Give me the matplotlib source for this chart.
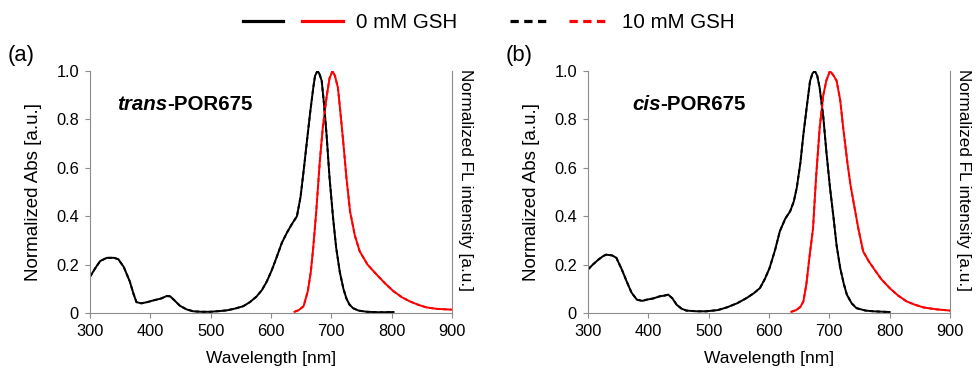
import matplotlib
matplotlib.use("Agg")
import matplotlib.pyplot as plt
from matplotlib.lines import Line2D
from matplotlib.legend_handler import HandlerTuple
from matplotlib.ticker import FuncFormatter

plt.rcParams['font.family'] = ['Liberation Sans', 'DejaVu Sans']

# (a) trans-POR675, absorbance
wl_abs_a = [300, 310, 317, 328, 340, 347, 356, 366, 372, 377, 385, 395, 405, 418, 427, 433,
            440, 449, 460, 471, 485, 499, 515, 527, 540, 554, 565, 576, 585, 593, 601, 609,
            618, 626, 634, 643, 649, 654, 660, 665, 670, 673, 677, 680, 684, 688, 692, 697,
            703, 708, 714, 720, 725, 730, 736, 745, 759, 780, 803]
abs_a = [0.15, 0.19, 0.215, 0.228, 0.228, 0.222, 0.19, 0.13, 0.08, 0.045, 0.04, 0.045, 0.052,
         0.06, 0.07, 0.069, 0.052, 0.03, 0.015, 0.007, 0.005, 0.005, 0.008, 0.011, 0.018,
         0.028, 0.045, 0.068, 0.095, 0.13, 0.175, 0.228, 0.29, 0.33, 0.365, 0.4, 0.48, 0.586,
         0.72, 0.83, 0.93, 0.98, 1.0, 0.99, 0.96, 0.86, 0.74, 0.56, 0.39, 0.27, 0.17, 0.1,
         0.06, 0.035, 0.02, 0.01, 0.005, 0.003, 0.004]

# (a) trans-POR675, fluorescence
wl_fl_a = [639, 646, 654, 661, 666, 670, 675, 681, 686, 692, 697, 702, 706, 711, 715, 720,
           725, 731, 739, 747, 760, 775, 790, 803, 817, 830, 845, 858, 875, 899]
fl_a = [0.005, 0.012, 0.028, 0.09, 0.17, 0.27, 0.42, 0.63, 0.77, 0.89, 0.97, 1.0, 0.98,
        0.93, 0.83, 0.7, 0.56, 0.42, 0.32, 0.255, 0.2, 0.159, 0.12, 0.09, 0.065, 0.048,
        0.033, 0.023, 0.017, 0.014]

# (b) cis-POR675, absorbance
wl_abs_b = [300, 308, 317, 325, 330, 340, 347, 356, 364, 372, 381, 390, 397, 408, 419, 427,
            433, 440, 447, 455, 463, 480, 496, 515, 530, 547, 563, 575, 585, 593, 601, 610,
            618, 627, 635, 641, 646, 652, 657, 663, 668, 672, 676, 680, 684, 690, 695, 701,
            707, 712, 718, 724, 729, 737, 745, 760, 773, 800]
abs_b = [0.18, 0.2, 0.22, 0.235, 0.241, 0.238, 0.228, 0.18, 0.131, 0.085, 0.055, 0.05,
         0.055, 0.06, 0.069, 0.072, 0.076, 0.06, 0.034, 0.018, 0.01, 0.007, 0.007, 0.012,
         0.023, 0.04, 0.062, 0.082, 0.103, 0.14, 0.186, 0.26, 0.338, 0.39, 0.42, 0.46,
         0.517, 0.62, 0.738, 0.86, 0.958, 0.99, 1.0, 0.98, 0.93, 0.81, 0.669, 0.52, 0.393,
         0.28, 0.186, 0.12, 0.076, 0.04, 0.02, 0.01, 0.007, 0.004]

# (b) cis-POR675, fluorescence
wl_fl_b = [637, 645, 652, 657, 662, 667, 673, 678, 684, 690, 695, 701, 706, 712, 718, 723,
           730, 735, 740, 748, 756, 765, 773, 786, 800, 814, 828, 842, 856, 878, 900]
fl_b = [0.005, 0.012, 0.025, 0.048, 0.12, 0.23, 0.35, 0.56, 0.765, 0.9, 0.96, 1.0, 0.985,
        0.96, 0.88, 0.765, 0.62, 0.53, 0.46, 0.35, 0.255, 0.215, 0.186, 0.14, 0.103,
        0.072, 0.048, 0.034, 0.023, 0.015, 0.01]

panels = [
    ("(a)", "trans", "-POR675", wl_abs_a, abs_a, wl_fl_a, fl_a),
    ("(b)", "cis", "-POR675", wl_abs_b, abs_b, wl_fl_b, fl_b),
]

W, H = 976, 369
fig = plt.figure(figsize=(W / 100, H / 100), dpi=100)
# axes boxes in pixels: left, right, top, bottom
boxes = [(90, 452, 71, 313), (588, 950, 71, 313)]

spine_col = "#8c8c8c"
for (x0, x1, y0, y1), (tag, iso, rest, wa, ya, wf, yf) in zip(boxes, panels):
    ax = fig.add_axes([x0 / W, 1 - y1 / H, (x1 - x0) / W, (y1 - y0) / H])
    ax.plot(wa, ya, color="black", lw=1.4)
    ax.plot(wf, yf, color="red", lw=1.4)
    # 10 mM GSH traces overlap the 0 mM traces
    ax.plot(wa, ya, color="black", lw=1.4, ls=(0, (2, 1.5)))
    ax.plot(wf, yf, color="red", lw=1.4, ls=(0, (2, 1.5)))
    ax.set_xlim(300, 900)
    ax.set_ylim(0, 1.0)
    ax.set_xticks(range(300, 901, 100))
    ax.set_yticks([0, 0.2, 0.4, 0.6, 0.8, 1.0])
    ax.yaxis.set_major_formatter(FuncFormatter(lambda v, p: "0" if v == 0 else f"{v:.1f}"))
    ax.tick_params(labelsize=11.8, direction="out", length=3.5, color=spine_col, pad=4.5)
    ax.spines["top"].set_visible(False)
    for s in ["left", "bottom", "right"]:
        ax.spines[s].set_color(spine_col)
    ax.set_xlabel("Wavelength [nm]", fontsize=12.5, va="center")
    ax.xaxis.set_label_coords(0.5, (y1 - 358) / (y1 - y0))
    ax.set_ylabel("Normalized Abs [a.u.]", fontsize=13.5, va="center")
    ax.yaxis.set_label_coords((34 - 90) / (x1 - x0), 0.5)
    fig.text((x1 + 6) / W, 1 - 69 / H, "Normalized FL intensity [a.u.]", fontsize=12.3,
             rotation=-90, ha="left", va="top")
    ty = (y1 - 105) / (y1 - y0)
    t = ax.text((117 if tag == "(a)" else 632) - x0, 0, iso, fontsize=14.8, fontweight="bold",
                fontstyle="italic", va="center")
    t.set_position(((t.get_position()[0]) / (x1 - x0), ty))
    t.set_transform(ax.transAxes)
    fig.canvas.draw()
    ext = t.get_window_extent().transformed(ax.transAxes.inverted())
    ax.text(ext.x1, ty, rest, transform=ax.transAxes, fontsize=14.8,
            fontweight="bold", va="center")
    fig.text((x0 - 82) / W, 1 - 56 / H, tag, fontsize=15.8, va="center")

dash = (0, (2.6, 1.7))
h0 = (Line2D([], [], color="black", lw=2.3), Line2D([], [], color="red", lw=2.3))
h1 = (Line2D([], [], color="black", lw=2.3, ls=dash),
      Line2D([], [], color="red", lw=2.3, ls=dash))
fig.legend([h0, h1], ["0 mM GSH", "10 mM GSH"], ncol=2, frameon=False,
           loc="center", bbox_to_anchor=(0.501, 1 - 23 / H), fontsize=14.8,
           handler_map={tuple: HandlerTuple(ndivide=None, pad=0.92)},
           handlelength=4.85, handletextpad=0.63, columnspacing=2.57,
           borderaxespad=0, borderpad=0)

fig.savefig("out.png", dpi=100)
